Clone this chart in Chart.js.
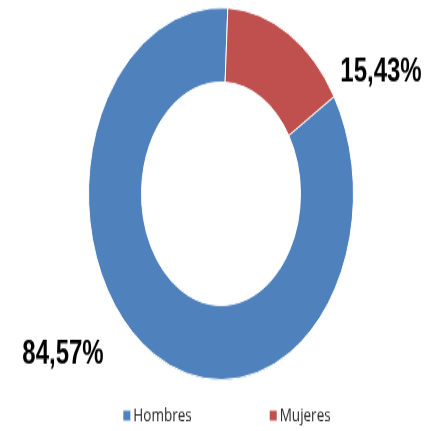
<!DOCTYPE html>
<html>
<head>
<meta charset="utf-8">
<script src="https://cdn.jsdelivr.net/npm/chart.js@4"></script>
<style>
	html, body { margin: 0; padding: 0; background: #ffffff; overflow: hidden; }
	#wrap { width: 430px; height: 431px; }
	#chart { transform: scale(1, 1.404); transform-origin: 0 0; }
</style>
</head>
<body>
<div id="wrap">
	<canvas id="chart" width="430" height="307"></canvas>
</div>
<script>
// datos
const labels = ['Hombres', 'Mujeres'];
const values = [84.57, 15.43];
const valueLabels = ['84,57%', '15,43%'];
const colors = ['#4F81BD', '#C0504D'];

// etiquetas de porcentaje, desplazadas a mano como en el original
const labelOffsets = [
	{ dx: -158, dy: 121 },
	{ dx: 160, dy: -80 }
];

const outsideLabels = {
	id: 'outsideLabels',
	afterDatasetsDraw(chart) {
		const ctx = chart.ctx;
		const arc = chart.getDatasetMeta(0).data[0];
		const cx = arc.x;
		const cy = arc.y;

		ctx.save();
		ctx.font = 'bold 24px "Liberation Sans", Arial, sans-serif';
		ctx.fillStyle = '#000000';
		ctx.textAlign = 'center';
		ctx.textBaseline = 'alphabetic';
		valueLabels.forEach((txt, i) => {
			ctx.fillText(txt, cx + labelOffsets[i].dx, cy + labelOffsets[i].dy);
		});

		// leyenda abajo
		ctx.font = '13.5px "Open Sans", sans-serif';
		ctx.textAlign = 'left';
		const box = 7;
		const gap = 3;
		const itemGap = 78;
		let widths = labels.map((l) => box + gap + ctx.measureText(l).width);
		let total = widths.reduce((a, b) => a + b, 0) + itemGap * (labels.length - 1);
		let x = cx + 6 - total / 2;
		const baseline = 299.5;
		labels.forEach((l, i) => {
			ctx.fillStyle = colors[i];
			ctx.fillRect(x, baseline - box, box, box);
			ctx.fillStyle = '#262626';
			ctx.fillText(l, x + box + gap, baseline);
			x += widths[i] + itemGap;
		});
		ctx.restore();
	}
};

const ctx = document.getElementById('chart').getContext('2d');
new Chart(ctx, {
	type: 'doughnut',
	data: {
		labels: labels,
		datasets: [
			{
				data: values,
				backgroundColor: colors,
				borderColor: 'white',
				borderWidth: 1
			}
		]
	},
	options: {
		responsive: false,
		animation: false,
		devicePixelRatio: 1,
		cutout: '60%',
		rotation: 58.5,
		layout: {
			padding: { left: 12, right: 0, top: 5, bottom: 36 }
		},
		plugins: {
			legend: { display: false },
			tooltip: { enabled: false }
		}
	},
	plugins: [outsideLabels]
});
</script>
</body>
</html>
